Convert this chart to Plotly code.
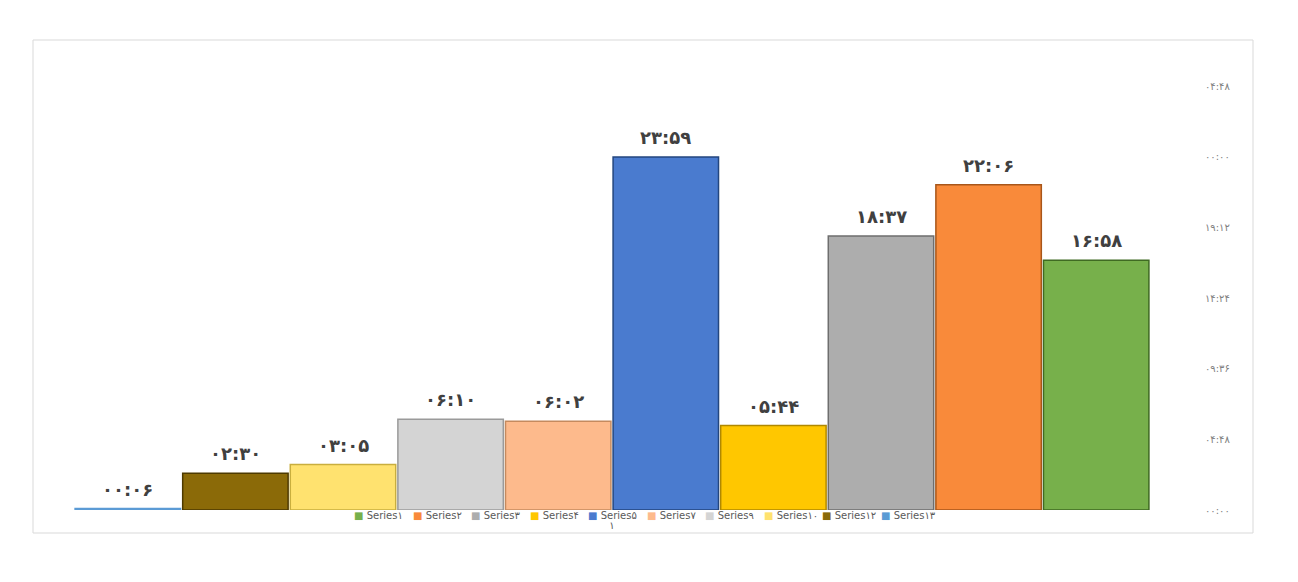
import plotly.graph_objects as go

# ---- data (legend order; the chart is drawn right-to-left) ----
series_names = ["Series1", "Series2", "Series3", "Series4", "Series5",
                "Series7", "Series9", "Series10", "Series12", "Series13"]
durations = ["16:58", "22:06", "18:37", "05:44", "23:59",
             "06:02", "06:10", "03:05", "02:30", "00:06"]
category_label = "1"
tick_hours = [0, 4.8, 9.6, 14.4, 19.2, 24.0, 28.8]
tick_labels = ["00:00", "04:48", "09:36", "14:24", "19:12", "00:00", "04:48"]

# ---- styles ----
colors = ["#77B04B", "#F98A3A", "#ADADAD", "#FFC700", "#4A7BCF",
          "#FDBA8C", "#D4D4D4", "#FFE26F", "#8B6A08", "#5B9BD5"]
edge_colors = ["#3F6A22", "#A8561A", "#6E6E6E", "#B08800", "#23467F",
               "#C58A5E", "#9A9A9A", "#C9AE3E", "#4E3A00", "#5B9BD5"]

PERSIAN = str.maketrans("0123456789", "۰۱۲۳۴۵۶۷۸۹")


def fa(s):
    return s.translate(PERSIAN)


def to_hours(s):
    h, m = s.split(":")
    return int(h) + int(m) / 60.0


FONT = "DejaVu Sans"
OFF = 8  # page body margin
L, W, T, H = 74 - OFF, 1076, 86 - OFF, 424
BOTTOM = T + H

fig = go.Figure()
for i, (name, d) in enumerate(zip(series_names, durations)):
    fig.add_trace(go.Bar(
        x=[i], y=[to_hours(d)], name=fa(name), width=0.98,
        marker=dict(color=colors[i], line=dict(color=edge_colors[i], width=1.5)),
        showlegend=False, hoverinfo="skip",
    ))
    fig.add_annotation(
        x=i, y=to_hours(d), text="<b>" + fa(d) + "</b>", showarrow=False,
        yanchor="bottom", yshift=7,
        font=dict(family=FONT, size=18, color="#404040"),
    )

# custom compact legend (as in the original)
for i, name in enumerate(series_names):
    px = 352 - OFF + i * 58.5
    fig.add_annotation(
        xref="paper", yref="paper", x=(px - L) / W, y=-5 / H,
        xanchor="left", yanchor="middle", showarrow=False,
        text=f"<span style='color:{colors[i]}'>■</span> " + fa(name),
        font=dict(family=FONT, size=10, color="#595959"),
    )

fig.add_shape(type="rect", xref="paper", yref="paper",
              x0=(33 - OFF - L) / W, x1=(1253 - OFF - L) / W,
              y0=(BOTTOM - (533 - OFF)) / H, y1=(BOTTOM - (40 - OFF)) / H,
              line=dict(color="#D9D9D9", width=1), layer="below")

fig.update_layout(
    width=1298, height=582,
    margin=dict(l=L, r=1298 - L - W, t=T, b=582 - T - H),
    paper_bgcolor="white", plot_bgcolor="white",
    barmode="overlay", showlegend=False,
    font=dict(family=FONT),
    xaxis=dict(range=[len(series_names) - 0.5, -0.5], tickvals=[(len(series_names) - 1) / 2],
               ticktext=[fa(category_label)], showgrid=False, zeroline=False,
               showline=False, ticks="", ticklabelstandoff=8,
               tickfont=dict(family=FONT, size=10, color="#595959")),
    yaxis=dict(range=[0, tick_hours[-1]], tickvals=tick_hours,
               ticktext=[fa(t) for t in tick_labels], side="right",
               showgrid=False, zeroline=False, showline=False, ticks="",
               ticklabelstandoff=54,
               tickfont=dict(family=FONT, size=10, color="#808080")),
)

fig.write_html("out.html")
